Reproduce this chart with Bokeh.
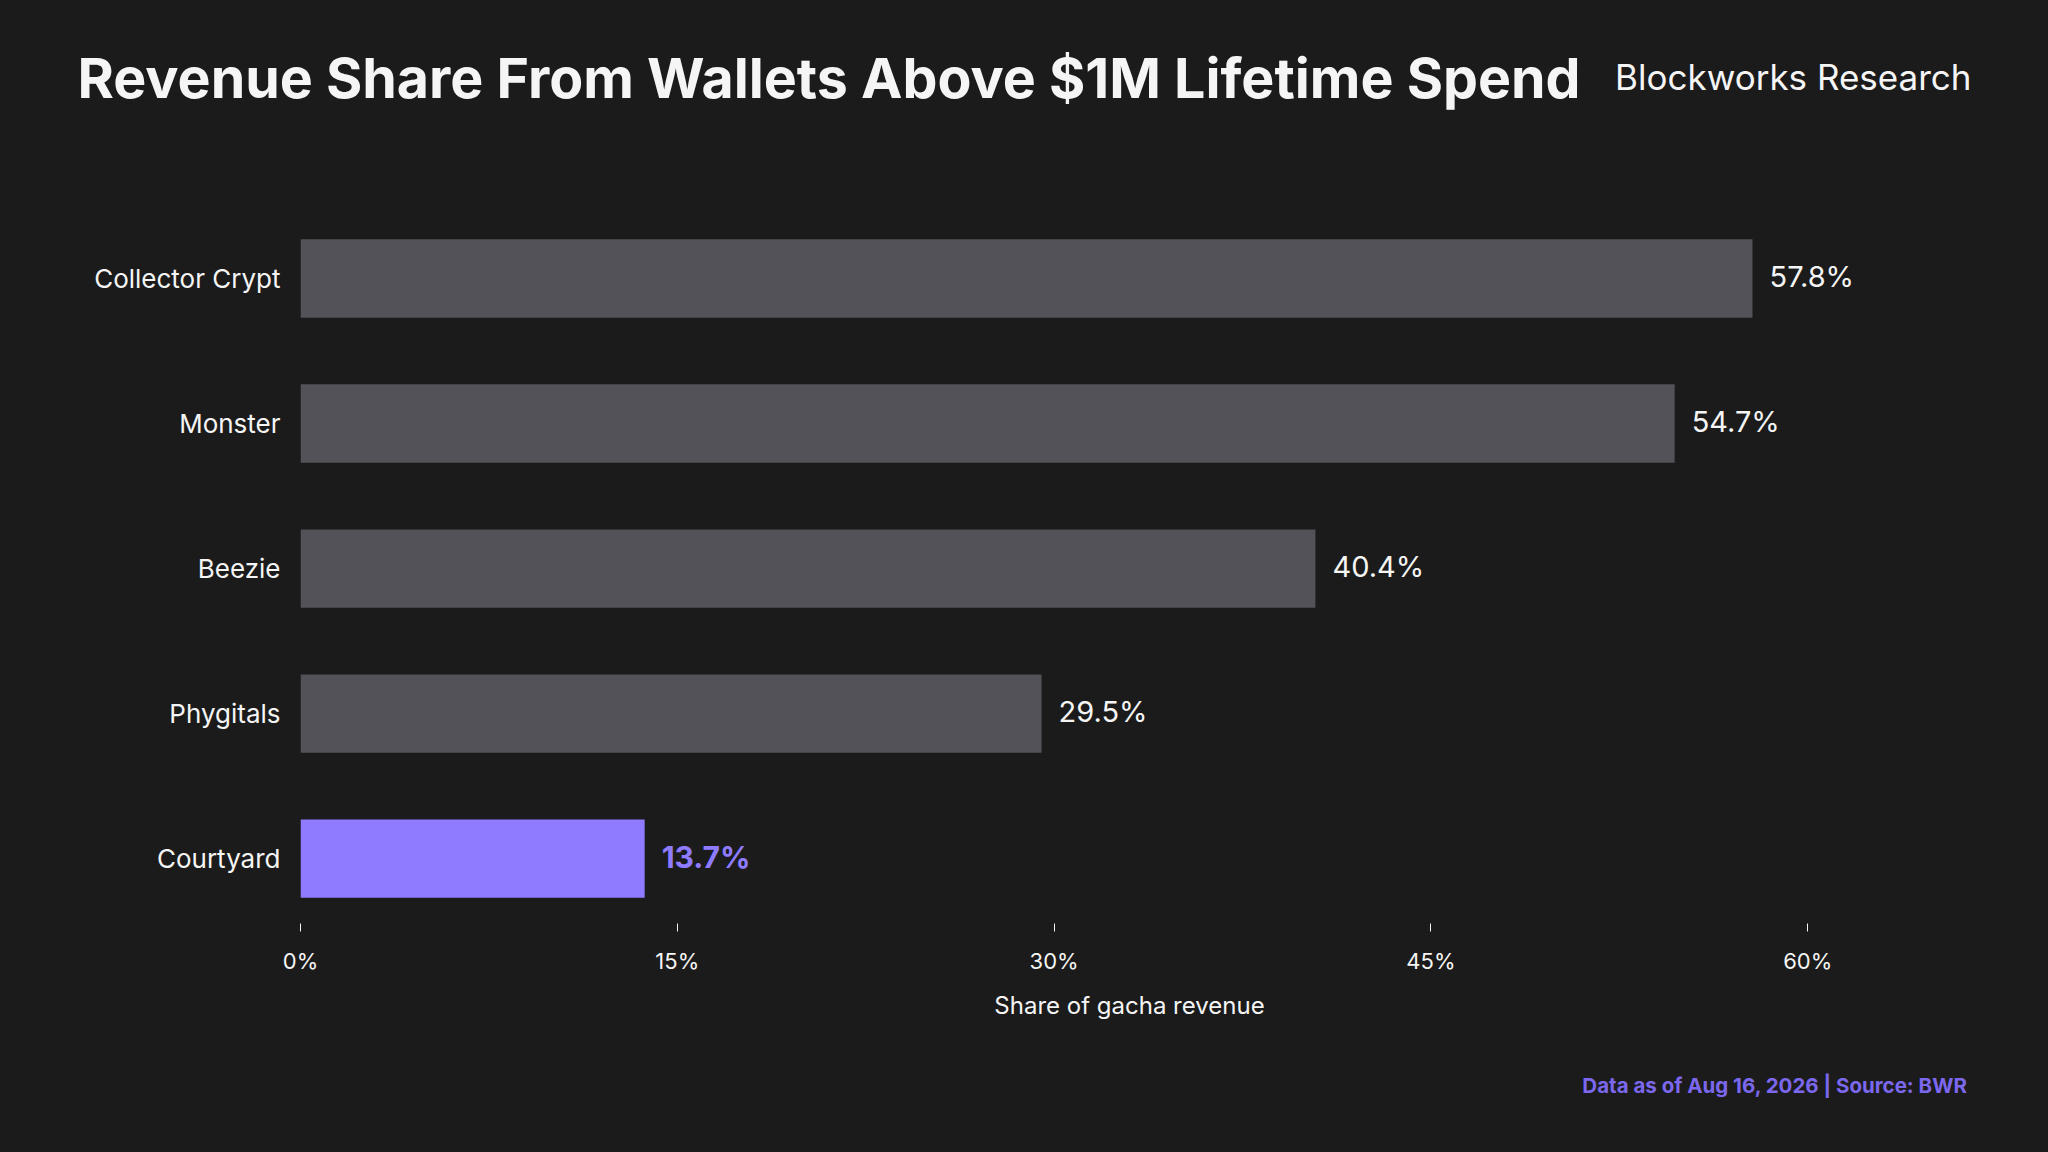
from bokeh.plotting import figure
from bokeh.models import (ColumnDataSource, Range1d, FixedTicker, PrintfTickFormatter,
                          Label, GlobalInlineStyleSheet)
from bokeh.core.properties import value
from bokeh.embed import file_html
from bokeh.resources import INLINE

# data, top to bottom as in the chart
platforms = ["Collector Crypt", "Monster", "Beezie", "Phygitals", "Courtyard"]
share = [57.8, 54.7, 40.4, 29.5, 13.7]
highlight = "Courtyard"
x_ticks = [0, 15, 30, 45, 60]

BG = "#1b1b1b"
BAR = "#535258"
PURPLE = "#8f7bff"
FOOT = "#7b68ee"
TXT = "#f5f5f5"
FONT = "Inter"

n = len(platforms)
pos = [n - 1 - i for i in range(n)]
colors = [PURPLE if c == highlight else BAR for c in platforms]
labels = [f"{v:.1f}%" for v in share]

src = ColumnDataSource(dict(y=pos, v=share, c=colors))
norm = ColumnDataSource(dict(y=[p for p, c in zip(pos, platforms) if c != highlight],
                             v=[v for v, c in zip(share, platforms) if c != highlight],
                             lab=[l for l, c in zip(labels, platforms) if c != highlight]))
hl = ColumnDataSource(dict(y=[p for p, c in zip(pos, platforms) if c == highlight],
                           v=[v for v, c in zip(share, platforms) if c == highlight],
                           lab=[l for l, c in zip(labels, platforms) if c == highlight]))

# frame: left 300, right 1958, top 190, bottom 923 (page pixels)
p = figure(width=2048, height=1152, output_backend="svg", toolbar_location=None,
           x_range=Range1d(0, 66), y_range=Range1d(-0.448, 4.607),
           min_border_left=300, min_border_right=90, min_border_top=190, min_border_bottom=229)
p.background_fill_color = BG
p.border_fill_color = BG
p.outline_line_color = None
p.grid.visible = False

p.hbar(y="y", right="v", left=0, height=0.54, color="c", line_color=None, source=src)

p.text(x="v", y="y", text="lab", source=norm, x_offset=17, y_offset=-2,
       text_baseline="middle", text_align="left", text_color=TXT,
       text_font=value(FONT), text_font_size="29px")
p.text(x="v", y="y", text="lab", source=hl, x_offset=17, y_offset=-2,
       text_baseline="middle", text_align="left", text_color=PURPLE,
       text_font=value(FONT), text_font_style="bold", text_font_size="30px")

xa = p.xaxis[0]
xa.ticker = FixedTicker(ticks=x_ticks)
xa.formatter = PrintfTickFormatter(format="%d%%")
xa.axis_line_color = None
xa.major_tick_line_color = TXT
xa.major_tick_in = 0
xa.major_tick_out = 8
xa.minor_tick_line_color = None
xa.major_label_text_color = TXT
xa.major_label_text_font = FONT
xa.major_label_text_font_size = "22px"
xa.major_label_standoff = 16
xa.axis_label = "Share of gacha revenue"
xa.axis_label_text_color = TXT
xa.axis_label_text_font = FONT
xa.axis_label_text_font_style = "normal"
xa.axis_label_text_font_size = "24px"
xa.axis_label_standoff = 14

ya = p.yaxis[0]
ya.ticker = FixedTicker(ticks=pos)
ya.major_label_overrides = {pp: name for pp, name in zip(pos, platforms)}
ya.axis_line_color = None
ya.major_tick_line_color = None
ya.minor_tick_line_color = None
ya.major_label_text_color = TXT
ya.major_label_text_font = FONT
ya.major_label_text_font_size = "26px"
ya.major_label_standoff = 14

# header and footer live in the side panels (labels in the centre are clipped to the frame)
p.add_layout(Label(x=-223, y=113, x_units="screen", y_units="screen",
                   text="Revenue Share From Wallets Above $1M Lifetime Spend",
                   text_font=FONT, text_font_style="bold", text_font_size="55.5px",
                   text_color=TXT, text_baseline="alphabetic", text_align="left"), "above")
p.add_layout(Label(x=1671, y=47, x_units="screen", y_units="screen",
                   text="Blockworks Research",
                   text_font=FONT, text_font_size="35px",
                   text_color=TXT, text_baseline="alphabetic", text_align="right"), "above")
p.add_layout(Label(x=1667, y=-38, x_units="screen", y_units="screen",
                   text="Data as of Aug 16, 2026 | Source: BWR",
                   text_font=FONT, text_font_style="bold", text_font_size="20.5px",
                   text_color=FOOT, text_baseline="alphabetic", text_align="right"), "below")

p.stylesheets = [GlobalInlineStyleSheet(css=f"body {{ background: {BG}; }}")]

open("out.html", "w").write(file_html(p, INLINE))
